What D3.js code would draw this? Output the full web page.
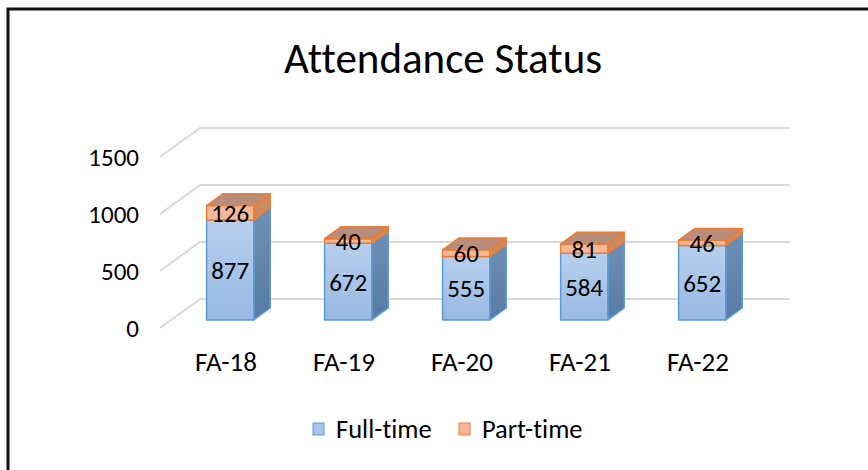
<!DOCTYPE html>
<meta charset="utf-8">
<script src="https://d3js.org/d3.v7.min.js"></script>
<style>
  body { margin: 0; background: #fff; }
  text { font-family: Carlito, Lato, "Noto Sans", sans-serif; fill: #000; font-variant-ligatures: none; }
</style>
<svg id="chart" width="868" height="470"></svg>
<script>

// data
var terms = ["FA-18", "FA-19", "FA-20", "FA-21", "FA-22"];
var fullTime = [877, 672, 555, 584, 652];
var partTime = [126, 40, 60, 81, 46];
var yTicks = [0, 500, 1000, 1500];
var seriesNames = ["Full-time", "Part-time"];

var svg = d3.select("#chart");

// frame
svg.append("rect")
    .attr("x", 8).attr("y", 9)
    .attr("width", 880).attr("height", 480)
    .style("fill", "#fff")
    .style("stroke", "#111")
    .style("stroke-width", 3)

// title
svg.append("text")
    .attr("x", 443).attr("y", 73)
    .attr("text-anchor", "middle")
    .style("font-size", "43px")
    .text("Attendance Status")

// 3d-ish projection: x along categories, v value, z depth 0 (front) .. 1 (back wall)
var ox = 160, oy = 328, dx = 40, dy = -29;
var x = d3.scaleBand().domain(terms).range([0, 590]).paddingInner(0.6).paddingOuter(0.3);
var y = d3.scaleLinear().domain([0, 1500]).range([0, 171]);

function P(px, v, z) { return [ox + px + z * dx, oy - y(v) + z * dy]; }
function poly(pts) { return "M" + pts.map(function(p){ return p.join(","); }).join("L") + "Z"; }

// gridlines on back wall + side wall
var grid = svg.append("g");
yTicks.forEach(function(t){
  var a = P(0, t, 0), b = P(0, t, 1), c = P(590, t, 1);
  grid.append("path")
      .attr("d", "M" + a + "L" + b + "L" + c)
      .style("fill", "none")
      .style("stroke", "#d9d9d9")
      .style("stroke-width", 2)
})

// tick labels
svg.append("g").selectAll("text")
  .data(yTicks)
  .enter().append("text")
    .attr("x", 139)
    .attr("y", function(d){ return P(0, d, 0)[1] + 9; })
    .attr("text-anchor", "end")
    .style("font-size", "25px")
    .text(function(d){ return d; })

// category labels
svg.append("g").selectAll("text")
  .data(terms)
  .enter().append("text")
    .attr("x", function(d){ return P(x(d) + x.bandwidth() / 2, 0, 0)[0] + 7; })
    .attr("y", 371)
    .attr("text-anchor", "middle")
    .style("font-size", "27px")
    .text(function(d){ return d; })

// gradients
var defs = svg.append("defs");
function grad(id, c1, c2) {
  var g = defs.append("linearGradient").attr("id", id)
      .attr("x1", 0).attr("y1", 0).attr("x2", 0).attr("y2", 1);
  g.append("stop").attr("offset", "0%").attr("stop-color", c1);
  g.append("stop").attr("offset", "100%").attr("stop-color", c2);
}
grad("blueFront", "#b7cfec", "#98b9e3");
grad("blueSide", "#6e8fb5", "#587ba3");

var z0 = 0.28, z1 = 0.69;
var styles = [
  { front: "url(#blueFront)", side: "url(#blueSide)", top: "#8aa7cc", stroke: "#5b9bd5" },
  { front: "#f7b898", side: "#d08a63", top: "#b98d7b", stroke: "#ed7d31" }
];

// bars
var bars = svg.append("g");
terms.forEach(function(term, i){
  var segs = [[0, fullTime[i]], [fullTime[i], fullTime[i] + partTime[i]]];
  var xl = x(term), xr = x(term) + x.bandwidth();
  segs.forEach(function(s, k){
    var st = styles[k];
    var g = bars.append("g");
    // side
    g.append("path")
        .attr("d", poly([P(xr, s[0], z0), P(xr, s[0], z1), P(xr, s[1], z1), P(xr, s[1], z0)]))
        .style("fill", st.side).style("stroke", st.stroke).style("stroke-width", 1.5)
        .style("stroke-linejoin", "round")
    // front
    g.append("path")
        .attr("d", poly([P(xl, s[0], z0), P(xr, s[0], z0), P(xr, s[1], z0), P(xl, s[1], z0)]))
        .style("fill", st.front).style("stroke", st.stroke).style("stroke-width", 1.5)
        .style("stroke-linejoin", "round")
    // top
    if (k == segs.length - 1) {
      g.append("path")
          .attr("d", poly([P(xl, s[1], z0), P(xr, s[1], z0), P(xr, s[1], z1), P(xl, s[1], z1)]))
          .style("fill", st.top).style("stroke", st.stroke).style("stroke-width", 1.5)
          .style("stroke-linejoin", "round")
    }
  })
  // value labels
  var cx = P(xl + x.bandwidth() / 2, 0, z0)[0];
  segs.forEach(function(s, k){
    bars.append("text")
        .attr("x", cx)
        .attr("y", P(0, (s[0] + s[1]) / 2, z0)[1] + 9)
        .attr("text-anchor", "middle")
        .style("font-size", "25px")
        .text(s[1] - s[0])
  })
})

// legend
var legend = svg.append("g");
var legendX = [313, 459];
seriesNames.forEach(function(name, k){
  legend.append("rect")
      .attr("x", legendX[k]).attr("y", 423)
      .attr("width", 11).attr("height", 12)
      .style("fill", k == 0 ? "#a8c4ea" : "#f6b496")
      .style("stroke", styles[k].stroke)
      .style("stroke-width", 1)
  legend.append("text")
      .attr("x", legendX[k] + 23).attr("y", 438)
      .style("font-size", "26.5px")
      .text(name)
})

</script>
